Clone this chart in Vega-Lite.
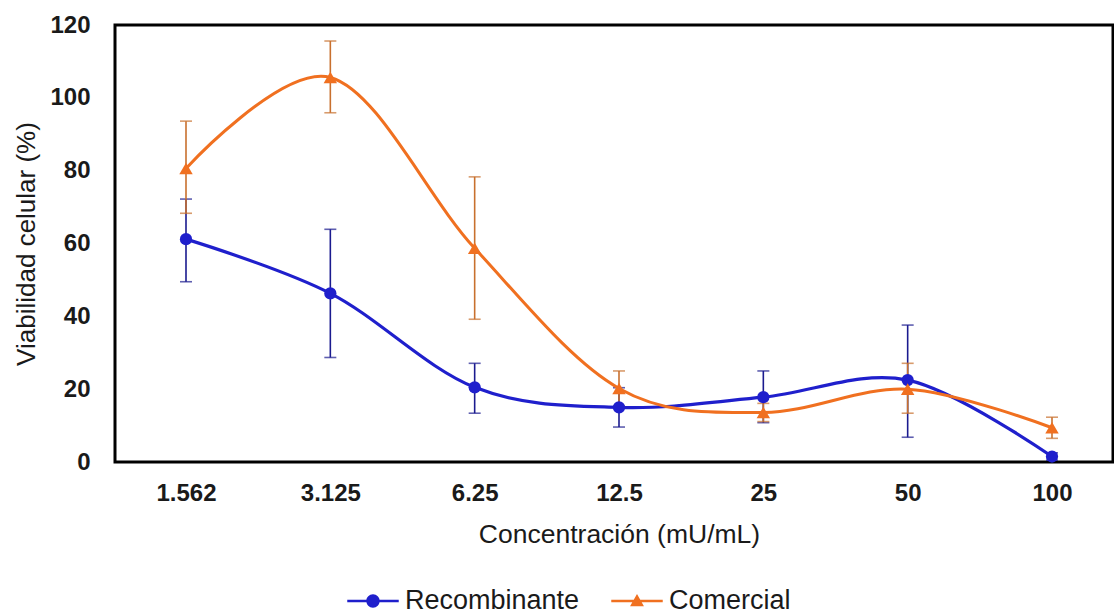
{
  "$schema": "https://vega.github.io/schema/vega-lite/v6.json",
  "width": 998,
  "height": 437,
  "autosize": {"type": "none"},
  "padding": {"left": 115, "top": 25, "right": 1, "bottom": 153},
  "background": "white",
  "config": {
    "view": {"stroke": "#000000", "strokeWidth": 3},
    "font": "Liberation Sans",
    "axis": {"domain": false, "ticks": false, "grid": false},
    "axisX": {"labelFont": "Liberation Sans", "labelFontSize": 24, "labelFontWeight": "bold", "labelColor": "#1a1a1a", "labelPadding": 19, "labelAngle": 0, "titleFont": "Liberation Sans", "titleFontSize": 26.5, "titleFontWeight": "normal", "titleColor": "#1a1a1a", "titlePadding": 16},
    "axisY": {"labelFont": "Liberation Sans", "labelFontSize": 24, "labelFontWeight": "bold", "labelColor": "#1a1a1a", "labelPadding": 25, "titleFont": "Liberation Sans", "titleFontSize": 26, "titleFontWeight": "normal", "titleColor": "#1a1a1a", "titlePadding": 10},
    "legend": {"orient": "none", "legendX": 232, "legendY": 550, "direction": "horizontal", "padding": 0, "symbolSize": 2650, "symbolOpacity": 1, "symbolStrokeWidth": 0, "labelFont": "Liberation Sans", "labelFontSize": 27, "labelColor": "#1a1a1a", "labelOffset": 6, "labelLimit": 400, "columnPadding": 31, "titlePadding": 0}
  },
  "data": {"values": [
    {"conc": "1.562", "serie": "Recombinante", "v": 61.2, "lo": 49.5, "hi": 72.2},
    {"conc": "3.125", "serie": "Recombinante", "v": 46.3, "lo": 28.7, "hi": 63.9},
    {"conc": "6.25", "serie": "Recombinante", "v": 20.5, "lo": 13.4, "hi": 27.1},
    {"conc": "12.5", "serie": "Recombinante", "v": 15.0, "lo": 9.6, "hi": 20.4},
    {"conc": "25", "serie": "Recombinante", "v": 17.8, "lo": 10.8, "hi": 25.0},
    {"conc": "50", "serie": "Recombinante", "v": 22.5, "lo": 6.8, "hi": 37.6},
    {"conc": "100", "serie": "Recombinante", "v": 1.5, "lo": 0.5, "hi": 2.5},
    {"conc": "1.562", "serie": "Comercial", "v": 80.6, "lo": 68.3, "hi": 93.6},
    {"conc": "3.125", "serie": "Comercial", "v": 105.6, "lo": 95.9, "hi": 115.6},
    {"conc": "6.25", "serie": "Comercial", "v": 58.7, "lo": 39.2, "hi": 78.3},
    {"conc": "12.5", "serie": "Comercial", "v": 20.2, "lo": 15.4, "hi": 25.0},
    {"conc": "25", "serie": "Comercial", "v": 13.6, "lo": 11.1, "hi": 16.1},
    {"conc": "50", "serie": "Comercial", "v": 20.0, "lo": 13.4, "hi": 27.1},
    {"conc": "100", "serie": "Comercial", "v": 9.4, "lo": 6.5, "hi": 12.3}
  ]},
  "encoding": {
    "x": {"field": "conc", "type": "ordinal", "title": "Concentración (mU/mL)",
      "scale": {"type": "point", "domain": ["1.562", "3.125", "6.25", "12.5", "25", "50", "100"], "range": [71, 937], "padding": 0}}
  },
  "layer": [
    {
      "transform": [{"filter": "datum.serie === 'Recombinante'"}],
      "mark": {"type": "errorbar", "ticks": {"size": 12}, "thickness": 1.6, "color": "#1B1B8F"},
      "encoding": {
        "y": {"field": "lo", "type": "quantitative", "title": "Viabilidad celular (%)", "scale": {"domain": [0, 120], "nice": false}, "axis": {"values": [0, 20, 40, 60, 80, 100, 120]}},
        "y2": {"field": "hi"}
      }
    },
    {
      "transform": [{"filter": "datum.serie === 'Comercial'"}],
      "mark": {"type": "errorbar", "ticks": {"size": 12}, "thickness": 1.6, "color": "#C8702E"},
      "encoding": {
        "y": {"field": "lo", "type": "quantitative", "title": "Viabilidad celular (%)"},
        "y2": {"field": "hi"}
      }
    },
    {
      "transform": [{"filter": "datum.serie === 'Recombinante'"}],
      "mark": {"type": "line", "interpolate": "cardinal", "tension": 0, "strokeWidth": 3.2, "color": "#1F1FCC"},
      "encoding": {"y": {"field": "v", "type": "quantitative", "title": "Viabilidad celular (%)"}}
    },
    {
      "transform": [{"filter": "datum.serie === 'Comercial'"}],
      "mark": {"type": "line", "interpolate": "cardinal", "tension": 0, "strokeWidth": 3, "color": "#F07020"},
      "encoding": {"y": {"field": "v", "type": "quantitative", "title": "Viabilidad celular (%)"}}
    },
    {
      "transform": [{"filter": "datum.serie === 'Recombinante'"}],
      "mark": {"type": "point", "filled": true, "shape": "circle", "size": 150, "color": "#1F1FCC", "opacity": 1},
      "encoding": {"y": {"field": "v", "type": "quantitative", "title": "Viabilidad celular (%)"}}
    },
    {
      "transform": [{"filter": "datum.serie === 'Comercial'"}],
      "mark": {"type": "point", "filled": true, "shape": "triangle-up", "size": 180, "color": "#F07020", "opacity": 1},
      "encoding": {"y": {"field": "v", "type": "quantitative", "title": "Viabilidad celular (%)"}}
    },
    {
      "mark": {"type": "point", "filled": true, "opacity": 0},
      "encoding": {
        "y": {"field": "v", "type": "quantitative", "title": "Viabilidad celular (%)"},
        "color": {"field": "serie", "type": "nominal", "title": null,
          "scale": {"domain": ["Recombinante", "Comercial"], "range": ["#1F1FCC", "#F07020"]}},
        "shape": {"field": "serie", "type": "nominal", "title": null,
          "scale": {"domain": ["Recombinante", "Comercial"], "range": [
            "M-1,-0.05L1,-0.05L1,0.05L-1,0.05Z M0.26,0A0.26,0.26,0,1,1,-0.26,0A0.26,0.26,0,1,1,0.26,0Z",
            "M-1,-0.05L1,-0.05L1,0.05L-1,0.05Z M0,-0.27L0.27,0.2L-0.27,0.2Z"
          ]}}
      }
    }
  ]
}
